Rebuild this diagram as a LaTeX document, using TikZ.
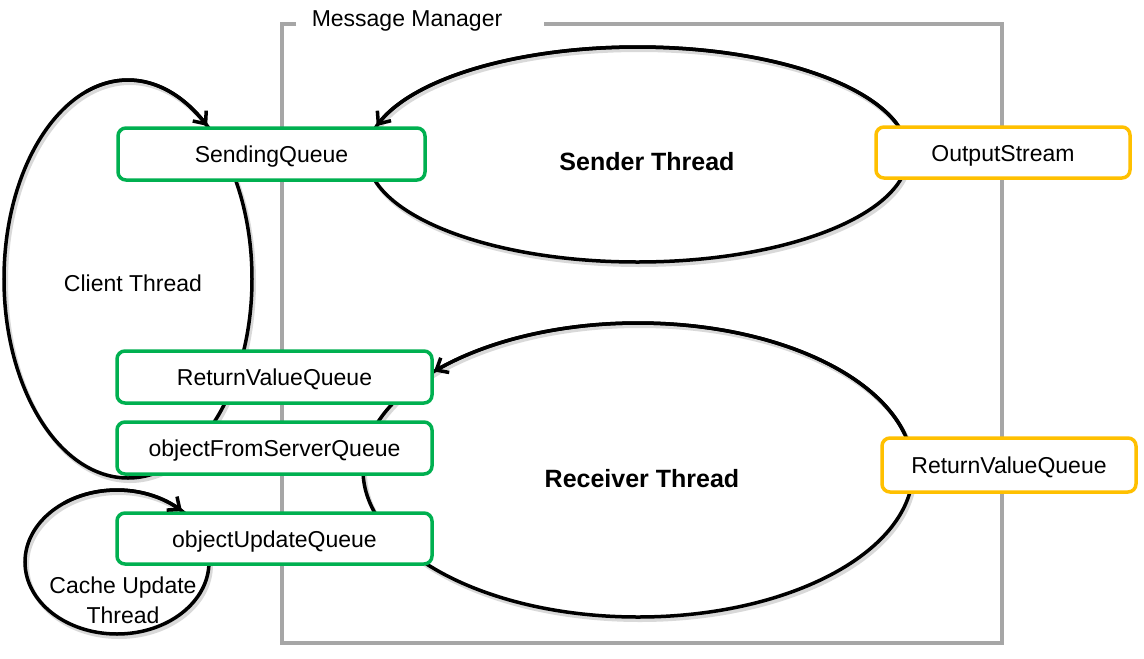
\documentclass[tikz,border=0pt]{standalone}
\usepackage{fontspec}
\setmainfont{Liberation Sans}
\usetikzlibrary{arrows.meta}
\definecolor{qgreen}{HTML}{00B050}
\definecolor{qorange}{HTML}{FFC000}
\definecolor{framegray}{HTML}{A6A6A6}
\newcommand{\qfont}{\fontsize{23}{30}\selectfont}
\newcommand{\bfont}{\fontsize{25}{30}\selectfont\bfseries}
\begin{document}
\begin{tikzpicture}[x=1pt,y=-1pt,
  queuebox/.style={draw=qgreen, line width=3.5pt, rounded corners=8pt, fill=white,
    inner sep=0pt, minimum height=52pt, font=\qfont, text height=17pt, text depth=0pt},
  outbox/.style={queuebox, draw=qorange},
  threadline/.style={draw=black, line width=3.5pt},
  threadshadow/.style={draw=black!15, line width=4pt},
  threadarrow/.style={threadline, -{Straight Barb[length=10pt,width=17pt]}},
  plainlabel/.style={font=\qfont, inner sep=0pt},
  boldlabel/.style={font=\bfont, inner sep=0pt},
  frameline/.style={draw=framegray, line width=3.2pt}]
\useasboundingbox (0,0) rectangle (1144,659);
\fill[white] (0,0) rectangle (1144,659);

% Message Manager frame
\draw[frameline] (296,24) -- (282,24) -- (282,643) -- (1002,643) -- (1002,24) -- (544,24);
\node[plainlabel] (mmlabel) at (407,21) {Message Manager};

% thread ellipse centres
\coordinate (clientc) at (128,279);
\coordinate (senderc) at (637.5,154.5);
\coordinate (receiverc) at (638,470);
\coordinate (cachec) at (117,562);

% shadows
\draw[threadshadow] ([shift={(2,3)}]senderc) ellipse[x radius=270.5, y radius=107.5];
\draw[threadshadow] ([shift={(2,3)}]receiverc) ellipse[x radius=275, y radius=147];
\draw[threadshadow] ([shift={(2,3)}]clientc) ellipse[x radius=124, y radius=199];
\draw[threadshadow] ([shift={(2,3)}]cachec) ellipse[x radius=92, y radius=72];

% thread ellipses
\draw[threadline] (senderc) ellipse[x radius=270.5, y radius=107.5];
\draw[threadline] (receiverc) ellipse[x radius=275, y radius=147];
\draw[threadline] (clientc) ellipse[x radius=124, y radius=199];
\draw[threadline] (cachec) ellipse[x radius=92, y radius=72];

% queues
\node[queuebox, minimum width=307pt] (sq) at (271.5,154) {SendingQueue};
\node[queuebox, minimum width=315pt] (rvq) at (274.5,377) {ReturnValueQueue};
\node[queuebox, minimum width=315pt] (ofsq) at (274.5,448) {objectFromServerQueue};
\node[queuebox, minimum width=315pt, minimum height=51pt] (ouq) at (274.5,538.5) {objectUpdateQueue};
\node[outbox, minimum width=254pt, minimum height=51pt] (os) at (1003,152.5) {OutputStream};
\node[outbox, minimum width=254pt, minimum height=54pt] (rvq2) at (1009,465) {ReturnValueQueue};

% arrowed parts of the thread loops
\draw[threadarrow] plot[domain=-17:-164.6, samples=90, variable=\t]
  ({637.5+270.5*cos(\t)},{154.5+107.5*sin(\t)});
\draw[threadarrow] plot[domain=-14:-137.9, samples=90, variable=\t]
  ({638+275*cos(\t)},{470+147*sin(\t)});
\draw[threadarrow] plot[domain=-110:-50.3, samples=60, variable=\t]
  ({128+124*cos(\t)},{279+199*sin(\t)});
\draw[threadarrow] plot[domain=-125:-45.1, samples=60, variable=\t]
  ({117+92*cos(\t)},{562+72*sin(\t)});

% thread labels
\node[boldlabel] (senderlabel) at (647,162) {Sender Thread};
\node[boldlabel] (receiverlabel) at (642,479) {Receiver Thread};
\node[plainlabel] (clientlabel) at (133,283) {Client Thread};
\node[plainlabel, align=center] (cachelabel) at (123,600) {Cache Update\\Thread};
\end{tikzpicture}
\end{document}
